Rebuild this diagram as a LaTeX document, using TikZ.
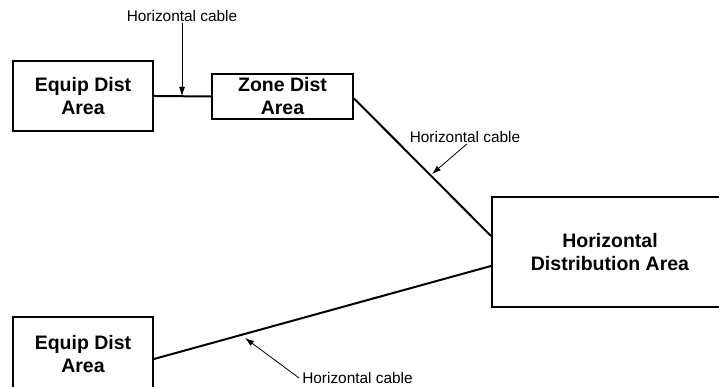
\documentclass[tikz,border=0pt]{standalone}
\usepackage{fontspec}
\setmainfont{Liberation Sans}
\usetikzlibrary{arrows.meta}

\begin{document}
\begin{tikzpicture}[x=1pt,y=1pt,
  area/.style={draw,rectangle,line width=2pt,align=center,
    font=\fontsize{19.5}{23}\selectfont\bfseries,inner sep=0pt},
  cable/.style={line width=2pt},
  pointer/.style={line width=0.8pt,-{Latex[length=9pt,width=6pt]}},
  lbl/.style={font=\fontsize{15.4}{18}\selectfont,inner sep=1pt}]

  \clip (0,0) rectangle (719,387);

  \node (eda1) at (83,291) [area,minimum width=140,minimum height=70]{Equip Dist\\Area};
  \node (zda) at (282.5,290.5) [area,minimum width=141,minimum height=45]{Zone Dist\\Area};
  \node (hda) at (610,135) [area,minimum width=236,minimum height=110]{Horizontal\\Distribution Area};
  \node (eda2) at (83,33) [area,minimum width=140,minimum height=74]{Equip Dist\\Area};

  \coordinate (hdatop) at ([yshift=16]hda.west);
  \coordinate (hdabot) at ([yshift=-14]hda.west);
  \coordinate (edabot) at ([yshift=-5]eda2.east);

  \draw[cable] (eda1.east) -- (zda.west);
  \draw[cable] ([yshift=-2]zda.east) -- (hdatop);
  \draw[cable] (edabot) -- (hdabot);

  \node (lbl1) at (182,371) [lbl]{Horizontal cable};
  \node (lbl2) at (465,250) [lbl]{Horizontal cable};
  \node (lbl3) at (357.5,9) [lbl]{Horizontal cable};

  \coordinate (tip1) at (182,291);
  \coordinate (tip2) at (432,213);
  \coordinate (tip3) at (245,49);

  \draw[pointer] (lbl1.south) -- (tip1);
  \draw[pointer] ([xshift=2]lbl2.south) -- (tip2);
  \draw[pointer] ([xshift=-2]lbl3.west) -- (tip3);

\end{tikzpicture}
\end{document}
